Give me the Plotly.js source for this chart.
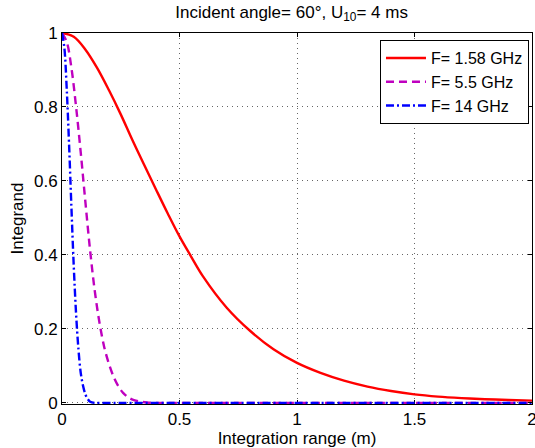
<!DOCTYPE html>
<html>
<head>
<meta charset="utf-8">
<script src="https://cdn.plot.ly/plotly-3.0.1.min.js"></script>
<style>html,body{margin:0;padding:0;background:#fff;}#chart{width:535px;height:448px;}</style>
</head>
<body>
<div id="chart"></div>
<script>
// Data
const seriesNames = ["F= 1.58 GHz", "F= 5.5 GHz", "F= 14 GHz"];

const x158 = [0, 0.05, 0.1, 0.15, 0.2, 0.25, 0.3, 0.35, 0.4, 0.45, 0.5, 0.55, 0.6, 0.7, 0.8, 0.9, 1.0, 1.1, 1.2, 1.3, 1.4, 1.5, 1.6, 1.7, 1.8, 1.9, 2.0];
const y158 = [1, 0.99, 0.955, 0.905, 0.845, 0.78, 0.71, 0.643, 0.577, 0.512, 0.45, 0.395, 0.342, 0.258, 0.195, 0.145, 0.108, 0.081, 0.06, 0.044, 0.032, 0.023, 0.017, 0.013, 0.01, 0.008, 0.006];

const x55 = [0, 0.02, 0.04, 0.06, 0.08, 0.1, 0.12, 0.14, 0.16, 0.18, 0.2, 0.22, 0.24, 0.26, 0.28, 0.3, 0.33, 0.36, 0.4, 0.6, 0.8, 1.0, 1.2, 1.4, 1.6, 1.8, 2.0];
const y55 = [1, 0.976, 0.906, 0.80, 0.675, 0.54, 0.41, 0.30, 0.215, 0.15, 0.105, 0.07, 0.045, 0.027, 0.016, 0.009, 0.004, 0.001, 0, 0, 0, 0, 0, 0, 0, 0, 0];

const x14 = [0, 0.01, 0.02, 0.03, 0.04, 0.05, 0.06, 0.07, 0.08, 0.09, 0.1, 0.11, 0.12, 0.14, 0.2, 0.4, 0.6, 0.8, 1.0, 1.2, 1.4, 1.6, 1.8, 2.0];
const y14 = [1, 0.96, 0.85, 0.70, 0.53, 0.37, 0.24, 0.145, 0.08, 0.045, 0.022, 0.01, 0.003, 0, 0, 0, 0, 0, 0, 0, 0, 0, 0, 0];

const xTickVals = [0, 0.5, 1, 1.5, 2];
const xTickText = ["0", "0.5", "1", "1.5", "2"];
const yTickVals = [0, 0.2, 0.4, 0.6, 0.8, 1];
const yTickText = ["0", "0.2", "0.4", "0.6", "0.8", "1"];

const traces = [
  {x: x158, y: y158, name: seriesNames[0], mode: "lines", line: {color: "#ff0000", width: 2.4, shape: "spline"}},
  {x: x55, y: y55, name: seriesNames[1], mode: "lines", line: {color: "#bf00bf", width: 2.4, dash: "8px,5px", shape: "spline"}},
  {x: x14, y: y14, name: seriesNames[2], mode: "lines", line: {color: "#0000ff", width: 2.4, dash: "8px,3px,2px,3px", shape: "spline"}}
];

const fam = "Liberation Sans, Arial, sans-serif";
const fs = 17;

const layout = {
  width: 535, height: 448,
  margin: {l: 62, r: 3, t: 33, b: 44, pad: 0},
  paper_bgcolor: "#fff", plot_bgcolor: "#fff",
  font: {family: fam, size: fs, color: "#000"},
  showlegend: true,
  title: {text: "Incident angle= 60°, U<sub>10</sub>= 4 ms", font: {family: fam, size: fs, color: "#000"}, x: 0.545, xanchor: "center", y: 0.987, yanchor: "top"},
  xaxis: {
    range: [0, 2], tickvals: xTickVals, ticktext: xTickText,
    showline: true, linecolor: "#000", linewidth: 1, mirror: "ticks",
    ticks: "inside", ticklen: 4, tickcolor: "#000",
    showgrid: true, gridcolor: "#666", griddash: "1px,4px", gridwidth: 1,
    zeroline: false, tickfont: {family: fam, size: fs},
    ticklabeloverflow: "allow", layer: "below traces",
    title: {text: "Integration range (m)", font: {family: fam, size: fs}, standoff: 0}
  },
  yaxis: {
    range: [-0.003, 1], tickvals: yTickVals, ticktext: yTickText,
    showline: true, linecolor: "#000", linewidth: 1, mirror: "ticks",
    ticks: "inside", ticklen: 4, tickcolor: "#000",
    showgrid: true, gridcolor: "#666", griddash: "1px,4px", gridwidth: 1,
    zeroline: false, tickfont: {family: fam, size: fs},
    ticklabeloverflow: "allow",
    title: {text: "Integrand", font: {family: fam, size: fs}, standoff: 6}
  },
  legend: {
    x: 0.9936, xanchor: "right", y: 0.981, yanchor: "top",
    bgcolor: "#fff", bordercolor: "#000", borderwidth: 1,
    font: {family: fam, size: 16},
    tracegroupgap: 0, itemwidth: 40
  }
};

Plotly.newPlot("chart", traces, layout, {displayModeBar: false, staticPlot: true});
</script>
</body>
</html>
